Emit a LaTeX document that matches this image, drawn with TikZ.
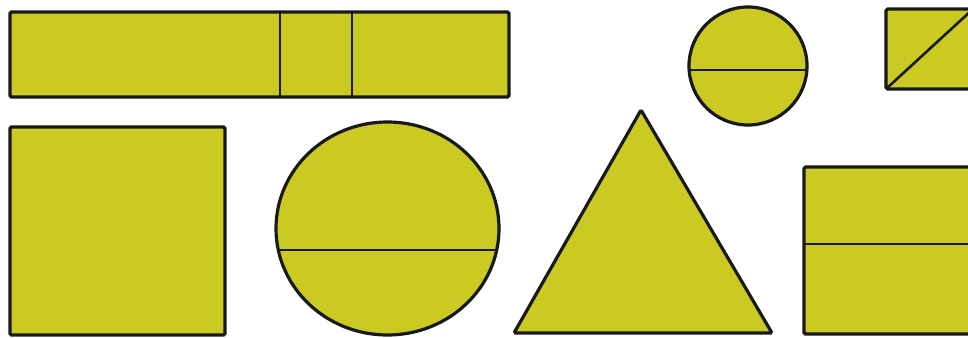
\documentclass[tikz,border=0pt]{standalone}
\usepackage{tikz}
\definecolor{figyellow}{RGB}{203,202,35}

\begin{document}
\begin{tikzpicture}[x=1pt,y=-1pt,
  piece/.style={fill=figyellow,draw=black!90,line width=3.2pt,
    rounded corners=1.5pt},
  cut/.style={draw=black!90,line width=2.6pt}]
\useasboundingbox (0,0) rectangle (968,337);
\clip (0,0) rectangle (968,337);
% top row
\draw[piece] (10,12) rectangle (509,97);
\draw[cut] (280,12) -- (280,97);
\draw[cut] (352,12) -- (352,97);
\draw[piece] (748,66) circle[radius=59pt];
\begin{scope}
  \clip (748,66) circle[radius=59pt];
  \draw[cut] (680,70) -- (820,70);
\end{scope}
\draw[piece] (886,9) rectangle (973,89);
\draw[cut] (886,89) -- (973,9);
% bottom row
\draw[piece] (10,127) rectangle (225,335);
\draw[piece] (387.5,228.5) ellipse[x radius=111.5pt,y radius=106.5pt];
\begin{scope}
  \clip (387.5,228.5) ellipse[x radius=111.5pt,y radius=106.5pt];
  \draw[cut] (270,250) -- (505,250);
\end{scope}
\draw[piece] (514,333) -- (641,110) -- (772,333) -- cycle;
\draw[piece] (804,167) rectangle (976,334);
\draw[cut] (804,244) -- (976,244);
\end{tikzpicture}
\end{document}
